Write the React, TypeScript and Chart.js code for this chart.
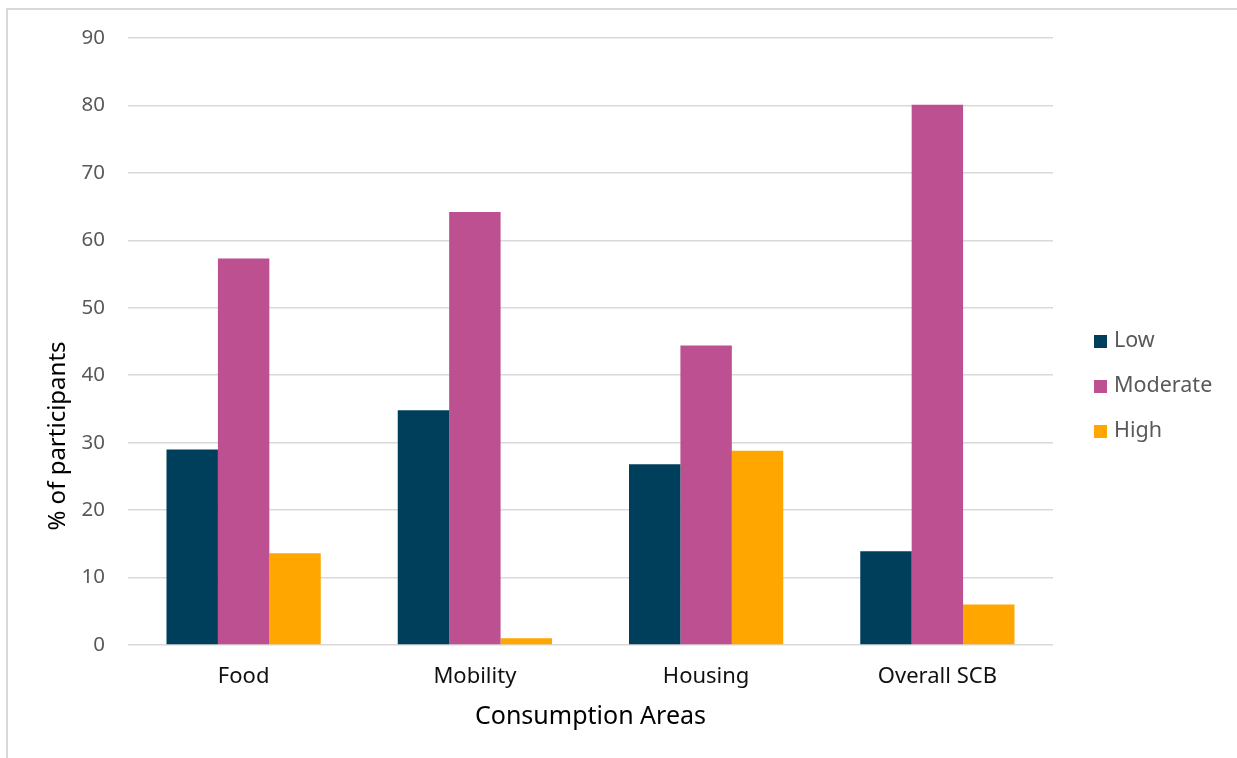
import React, { useEffect, useRef } from "react";
import { Chart, registerables } from "chart.js";

Chart.register(...registerables);

const categories = ["Food", "Mobility", "Housing", "Overall SCB"];
const lowValues = [29.0, 34.8, 26.8, 13.9];
const moderateValues = [57.3, 64.2, 44.4, 80.1];
const highValues = [13.6, 1.0, 28.8, 6.0];
const seriesNames = ["Low", "Moderate", "High"];
const seriesColors = ["#003f5c", "#bc5090", "#ffa600"];
const yTicks = [0, 10, 20, 30, 40, 50, 60, 70, 80, 90];
const xTitle = "Consumption Areas";
const yTitle = "% of participants";

const FONT = "'Noto Sans', 'Open Sans', sans-serif";

const extrasPlugin = {
  id: "extras",
  afterDraw(chart: any) {
    const ctx = chart.ctx;
    const area = chart.chartArea;
    ctx.save();
    // y axis title
    ctx.fillStyle = "#000000";
    ctx.font = `24px ${FONT}`;
    ctx.textAlign = "center";
    ctx.textBaseline = "middle";
    ctx.translate(area.left - 70, area.bottom - 209);
    ctx.rotate(-Math.PI / 2);
    ctx.fillText(yTitle, 0, 0);
    ctx.restore();

    // legend
    ctx.save();
    const ds = chart.data.datasets;
    const spacing = 45;
    const cy = chart.height / 2 + 2;
    const x0 = area.right + 41;
    ctx.font = `21.5px ${FONT}`;
    ctx.textAlign = "left";
    ctx.textBaseline = "middle";
    ds.forEach((d: any, i: number) => {
      const y = cy + (i - (ds.length - 1) / 2) * spacing;
      ctx.fillStyle = d.backgroundColor;
      ctx.fillRect(x0, y - 6, 13, 13);
      ctx.fillStyle = "#595959";
      ctx.fillText(d.label, x0 + 20, y);
    });
    ctx.restore();
  },
};

export default function App() {
  const ref = useRef<HTMLCanvasElement>(null);
  useEffect(() => {
    if (!ref.current) return;
    const chart = new Chart(ref.current, {
      type: "bar",
      data: {
        labels: categories,
        datasets: [lowValues, moderateValues, highValues].map((vals, i) => ({
          label: seriesNames[i],
          data: vals,
          backgroundColor: seriesColors[i],
          borderWidth: 0,
          categoryPercentage: 0.667,
          barPercentage: 1.0,
        })),
      },
      options: {
        animation: false,
        responsive: false,
        maintainAspectRatio: false,
        layout: { padding: { top: 28, right: 184, left: 0, bottom: 26 } },
        plugins: {
          legend: { display: false },
          tooltip: { enabled: false },
        },
        scales: {
          x: {
            grid: { display: false, drawTicks: false },
            border: { display: false },
            ticks: {
              color: "#111111",
              font: { family: FONT, size: 22 },
              padding: 19,
            },
            title: {
              display: true,
              text: xTitle,
              color: "#000000",
              font: { family: FONT, size: 25 },
              padding: { top: 10, bottom: 0 },
            },
            afterFit(scale: any) {
              scale.height = 87;
            },
          },
          y: {
            min: 0,
            max: 90,
            afterBuildTicks(scale: any) {
              scale.ticks = yTicks.map((v) => ({ value: v }));
            },
            grid: {
              color: "#d9d9d9",
              lineWidth: 1.5,
              drawTicks: false,
            },
            border: { display: false },
            ticks: {
              color: "#595959",
              font: { family: FONT, size: 20.5 },
              padding: 23,
            },
            afterFit(scale: any) {
              scale.width = 120;
              scale.paddingTop = 0;
              scale.paddingBottom = 0;
            },
          },
        },
      },
      plugins: [extrasPlugin],
    });
    return () => chart.destroy();
  }, []);

  return (
    <div
      style={{
        position: "fixed",
        left: 6,
        top: 8,
        width: 1231,
        height: 750,
        boxSizing: "border-box",
        borderLeft: "2px solid #d9d9d9",
        borderTop: "2px solid #d9d9d9",
        background: "#ffffff",
      }}
    >
      <canvas ref={ref} width={1229} height={748} style={{ display: "block" }} />
    </div>
  );
}
